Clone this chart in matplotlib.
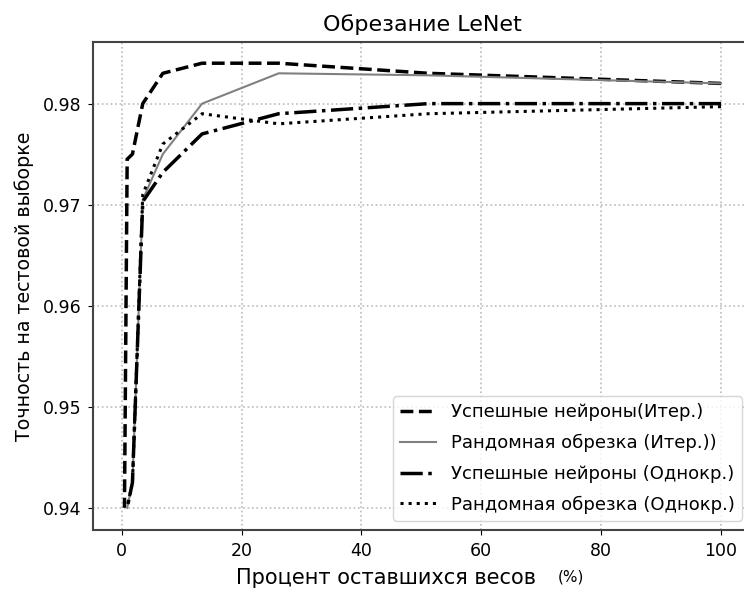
import numpy as np
import matplotlib
matplotlib.use("Agg")
import matplotlib.pyplot as plt

# процент оставшихся весов (каждый шаг ~0.512)
x = [100, 51.2, 26.21, 13.42, 6.87, 3.52, 1.8, 0.92]
x_iter = [100, 51.2, 26.21, 13.42, 6.87, 3.52, 1.8, 0.92, 0.47]

acc_good_iter = [0.982, 0.983, 0.984, 0.984, 0.983, 0.980, 0.975, 0.9745, 0.940]
acc_rand_iter = [0.982, 0.9828, 0.983, 0.980, 0.975, 0.9705, 0.9425, 0.940]
acc_good_once = [0.980, 0.980, 0.979, 0.977, 0.9732, 0.9703, 0.9425, 0.940]
acc_rand_once = [0.9797, 0.979, 0.978, 0.979, 0.976, 0.971, 0.9425, 0.940]

labels = ["Успешные нейроны(Итер.)",
          "Рандомная обрезка (Итер.))",
          "Успешные нейроны (Однокр.)",
          "Рандомная обрезка (Однокр.)"]

plt.rcParams['font.family'] = 'DejaVu Sans'

fig = plt.figure(figsize=(7.44, 5.93), dpi=100)
# ось немного выходит за правый край картинки, как в оригинале
ax = fig.add_axes([0.1254, 0.1062, 0.8840, 0.8230])

ax.plot(x_iter, acc_good_iter, color='black', linestyle='--', linewidth=2.5, label=labels[0])
ax.plot(x, acc_rand_iter, color='gray', linestyle='-', linewidth=1.5, label=labels[1])
ax.plot(x, acc_good_once, color='black', linestyle='-.', linewidth=2.5, label=labels[2])
ax.plot(x, acc_rand_once, color='black', linestyle=':', linewidth=2.2, label=labels[3])

ax.set_xlim(-4.73, 105)
ax.set_ylim(0.9378, 0.9861)
ax.set_xticks([0, 20, 40, 60, 80, 100])
ax.set_yticks([0.94, 0.95, 0.96, 0.97, 0.98])
ax.tick_params(labelsize=12.5, pad=5)
ax.grid(True, linestyle=':', color='#bbbbbb', linewidth=1.2)
for s in ax.spines.values():
    s.set_color('#444444')
    s.set_linewidth(1.5)

ax.set_title("Обрезание LeNet", fontsize=16, pad=8)
ax.set_ylabel("Точность на тестовой выборке", fontsize=13.7, labelpad=6)
ax.set_xlabel("Процент оставшихся весов", fontsize=15, labelpad=6)
ax.xaxis.set_label_coords(0.445, -0.078)
fig.text(0.767, 0.02, "(%)", fontsize=11, ha='center')

ax.legend(loc='lower right', fontsize=13, labelspacing=0.7, borderaxespad=0.5)

fig.savefig("out.png", dpi=100)
